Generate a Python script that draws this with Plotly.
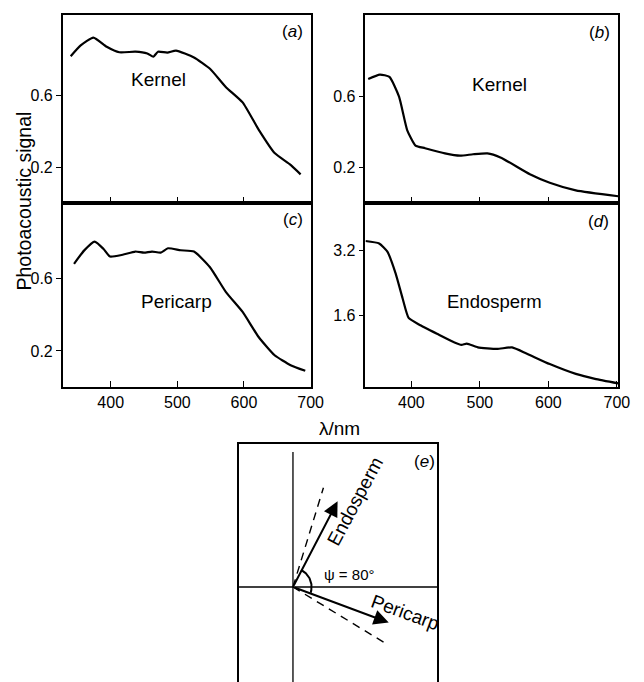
import numpy as np
import plotly.graph_objects as go

# ---------------- data ----------------
# (a) Kernel
wl_a = [340, 355, 374, 394, 413, 437, 455, 464, 471, 485, 498, 525, 549, 573, 598, 622, 646, 670, 685]
sig_a = [0.82, 0.88, 0.924, 0.873, 0.842, 0.845, 0.835, 0.817, 0.845, 0.84, 0.851, 0.813, 0.75, 0.647, 0.562, 0.41, 0.279, 0.213, 0.16]
# (b) Kernel
wl_b = [337, 354, 368, 382, 394, 406, 420, 449, 471, 490, 511, 530, 573, 602, 640, 702]
sig_b = [0.699, 0.724, 0.711, 0.60, 0.41, 0.324, 0.309, 0.28, 0.267, 0.275, 0.28, 0.257, 0.162, 0.114, 0.071, 0.038]
# (c) Pericarp
wl_c = [345, 360, 376, 389, 399, 418, 437, 450, 462, 475, 486, 505, 525, 549, 573, 598, 622, 646, 670, 692]
sig_c = [0.683, 0.756, 0.806, 0.766, 0.723, 0.733, 0.751, 0.745, 0.751, 0.745, 0.769, 0.758, 0.751, 0.664, 0.526, 0.416, 0.277, 0.176, 0.121, 0.09]
# (d) Endosperm
wl_d = [333, 353, 365, 377, 387, 396, 411, 439, 463, 473, 481, 497, 525, 547, 568, 602, 640, 668, 702]
sig_d = [3.42, 3.36, 3.16, 2.63, 2.03, 1.54, 1.38, 1.14, 0.94, 0.88, 0.91, 0.82, 0.78, 0.82, 0.67, 0.41, 0.17, 0.05, -0.06]

x_ticks_lower = [400, 500, 600, 700]
x_ticks_upper = [400, 500, 600]
y_ticks_ac = [0.2, 0.6]
y_ticks_b = [0.2, 0.6]
y_ticks_d = [1.6, 3.2]

# (e) vector diagram
vector_names = ["Endosperm", "Pericarp"]
vector_angles = [62, -20]      # degrees from horizontal
vector_lengths = [97, 104]
dashed_angles = [72.6, -30.8]
dashed_lengths = [104, 109]
arc_angles = [64, -18]
arc_radius = 19
psi_text = "ψ = 80°"

# ---------------- figure ----------------
W, H = 644, 682
def px(x): return x / W
def py(y): return 1 - y / H

FONT = "Liberation Sans, Arial, sans-serif"
LW = 2.2

fig = go.Figure()
line = dict(color="black", width=LW, shape="spline", smoothing=0.5)
fig.add_trace(go.Scatter(x=wl_a, y=sig_a, mode="lines", line=line, xaxis="x", yaxis="y"))
fig.add_trace(go.Scatter(x=wl_b, y=sig_b, mode="lines", line=line, xaxis="x2", yaxis="y2"))
fig.add_trace(go.Scatter(x=wl_c, y=sig_c, mode="lines", line=line, xaxis="x3", yaxis="y3"))
fig.add_trace(go.Scatter(x=wl_d, y=sig_d, mode="lines", line=line, xaxis="x4", yaxis="y4"))

# panel e crosshair
fig.add_trace(go.Scatter(x=[0, 0], y=[-95, 135], mode="lines", line=dict(color="black", width=1.3), xaxis="x5", yaxis="y5"))
fig.add_trace(go.Scatter(x=[-55, 147], y=[0, 0], mode="lines", line=dict(color="black", width=1.3), xaxis="x5", yaxis="y5"))
# dashed lines
for ang, ln in zip(dashed_angles, dashed_lengths):
    r = np.radians(ang)
    fig.add_trace(go.Scatter(x=[0, ln * np.cos(r)], y=[0, ln * np.sin(r)], mode="lines",
                             line=dict(color="black", width=1.4, dash="8px,6px"), xaxis="x5", yaxis="y5"))
# arc
t = np.radians(np.linspace(arc_angles[0], arc_angles[1], 40))
fig.add_trace(go.Scatter(x=arc_radius * np.cos(t), y=arc_radius * np.sin(t), mode="lines",
                         line=dict(color="black", width=2), xaxis="x5", yaxis="y5"))

axis_common = dict(showline=True, mirror=True, linecolor="black", linewidth=1.5,
                   showgrid=False, zeroline=False,
                   tickfont=dict(family=FONT, size=16, color="black"))
xcommon = dict(axis_common, ticks="inside", ticklen=6, tickwidth=1.3, tickcolor="black")
ycommon = dict(axis_common, ticks="outside", ticklen=5, tickwidth=1.3, tickcolor="black")

dx_left = [px(64), px(317)]
dx_right = [px(373), px(631)]
dy_top = [py(203), py(15)]
dy_bot = [py(387), py(203)]

fig.update_layout(
    width=W, height=H, margin=dict(l=0, r=0, t=0, b=0),
    paper_bgcolor="white", plot_bgcolor="white", showlegend=False,
    xaxis=dict(xcommon, domain=dx_left, range=[328, 700], tickvals=x_ticks_upper, showticklabels=False, anchor="y"),
    yaxis=dict(ycommon, domain=dy_top, range=[0, 1.05], tickvals=y_ticks_ac, anchor="x"),
    xaxis2=dict(xcommon, domain=dx_right, range=[333, 702], tickvals=x_ticks_upper, showticklabels=False, anchor="y2"),
    yaxis2=dict(ycommon, domain=dy_top, range=[0, 1.06], tickvals=y_ticks_b, anchor="x2"),
    xaxis3=dict(xcommon, domain=dx_left, range=[328, 700], tickvals=x_ticks_lower, anchor="y3"),
    yaxis3=dict(ycommon, domain=dy_bot, range=[0, 1.02], tickvals=y_ticks_ac, anchor="x3"),
    xaxis4=dict(xcommon, domain=dx_right, range=[333, 702], tickvals=x_ticks_lower, anchor="y4"),
    yaxis4=dict(ycommon, domain=dy_bot, range=[-0.15, 4.35], tickvals=y_ticks_d, anchor="x4"),
    xaxis5=dict(axis_common, domain=[px(244), px(446)], range=[-55, 147], showticklabels=False, ticks="", anchor="y5"),
    yaxis5=dict(axis_common, domain=[0.0, py(444)], range=[-95, 143], showticklabels=False, ticks="", anchor="x5"),
)

ann = []
def label(text, x, y, size=17.5, **kw):
    ann.append(dict(text=text, x=px(x), y=py(y), xref="paper", yref="paper", showarrow=False,
                    xanchor="center", yanchor="middle",
                    font=dict(family=FONT, size=size, color="black"), **kw))

label("Kernel", 162, 79, 19)
label("Kernel", 510, 84, 19)
label("Pericarp", 180, 301, 19)
label("Endosperm", 505, 301, 18.5)
label("(<i>a</i>)", 299, 32, 17)
label("(<i>b</i>)", 612, 33, 17)
label("(<i>c</i>)", 299, 220, 17)
label("(<i>d</i>)", 611, 222, 17)
label("λ/nm", 347, 428, 19)
label("Photoacoustic signal", 25, 201, 19.5, textangle=-90)

# arrows in panel e
for name, ang, ln in zip(vector_names, vector_angles, vector_lengths):
    r = np.radians(ang)
    ann.append(dict(x=ln * np.cos(r), y=ln * np.sin(r), ax=0, ay=0, xref="x5", yref="y5",
                    axref="x5", ayref="y5", text="", showarrow=True, arrowhead=2,
                    arrowsize=1.5, arrowwidth=2, arrowcolor="black", standoff=0))

efont = dict(family=FONT, size=19, color="black")
ann.append(dict(text=vector_names[0], x=63, y=86, xref="x5", yref="y5", showarrow=False,
                xanchor="center", yanchor="middle", textangle=-vector_angles[0], font=efont))
ann.append(dict(text=vector_names[1], x=115, y=-25, xref="x5", yref="y5", showarrow=False,
                xanchor="center", yanchor="middle", textangle=-vector_angles[1], font=efont))
ann.append(dict(text=psi_text, x=57, y=13, xref="x5", yref="y5", showarrow=False,
                xanchor="center", yanchor="middle", font=dict(efont, size=15)))
ann.append(dict(text="(<i>e</i>)", x=134, y=126, xref="x5", yref="y5", showarrow=False,
                xanchor="center", yanchor="middle", font=dict(efont, size=17)))

fig.update_layout(annotations=ann)
fig.write_html("out.html")
